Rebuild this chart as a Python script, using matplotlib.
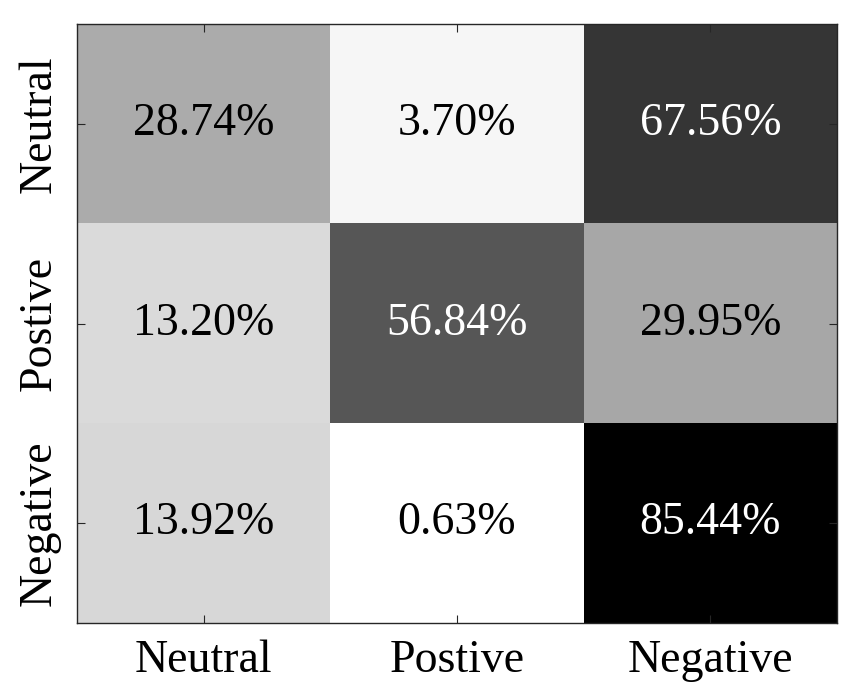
import numpy as np
import matplotlib.pyplot as plt
from matplotlib import font_manager

labels = ['Neutral', 'Postive', 'Negative']
values = np.array([
    [28.74, 3.70, 67.56],
    [13.20, 56.84, 29.95],
    [13.92, 0.63, 85.44],
])

# pick the Times-like font file directly
serif_path = None
for f in font_manager.fontManager.ttflist:
    if f.fname.endswith('LiberationSerif-Regular.ttf'):
        serif_path = f.fname
        break
if serif_path:
    fp = font_manager.FontProperties(fname=serif_path, size=33)
else:
    fp = font_manager.FontProperties(family='serif', size=33)

fig = plt.figure(figsize=(8.66, 7.0), dpi=100)
ax = fig.add_axes([0.0889, 0.11, 0.8776, 0.8557])

vmin, vmax = values.min(), values.max()
ax.imshow(values, cmap='gray_r', vmin=vmin, vmax=vmax, aspect='auto',
          interpolation='nearest')

for i in range(values.shape[0]):
    for j in range(values.shape[1]):
        v = values[i, j]
        frac = (v - vmin) / (vmax - vmin)
        color = 'white' if frac > 0.5 else 'black'
        ax.text(j, i, '%.2f%%' % v, ha='center', va='center',
                fontproperties=fp, color=color)

ax.set_xticks(range(3))
ax.set_xticklabels(labels, fontproperties=fp)
ax.set_yticks(range(3))
ax.set_yticklabels(labels, fontproperties=fp, rotation=90, va='center')
ax.tick_params(direction='in', length=6, width=0.8, top=True, right=True,
               color='#262626', pad=12)
for s in ax.spines.values():
    s.set_linewidth(1.0)
    s.set_color('#262626')

fig.savefig('out.png', dpi=100)
